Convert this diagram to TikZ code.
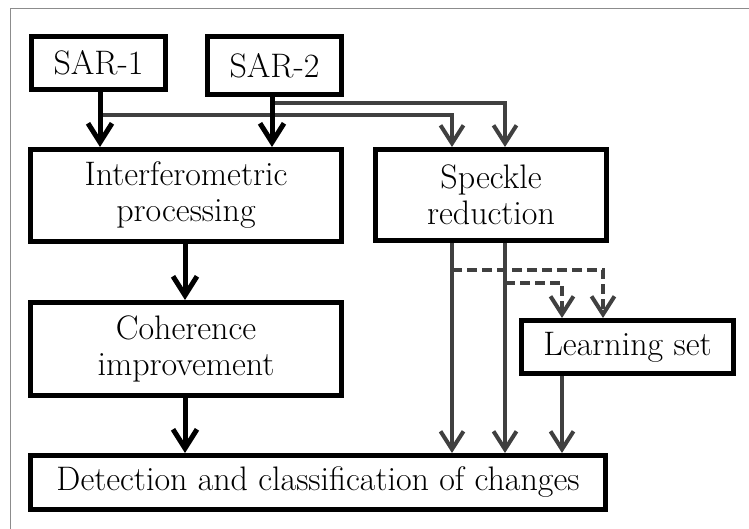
\documentclass[tikz,border=0pt]{standalone}
\usetikzlibrary{arrows.meta}
\definecolor{conngray}{HTML}{404040}
\definecolor{framegray}{HTML}{8C8C8C}
\begin{document}
\begin{tikzpicture}[x=1pt,y=-1pt,
  box/.style={draw=black,line width=5pt,fill=white,inner sep=0pt,align=center,
    font=\fontsize{34}{36}\selectfont},
  blk/.style={draw=black,line width=5pt,-{Straight Barb[length=19pt,width=24pt]}},
  gry/.style={draw=conngray,line width=4pt,-{Straight Barb[length=18pt,width=23pt]}},
  dsh/.style={gry,dash pattern=on 10pt off 5pt}]
\useasboundingbox (0,0) rectangle (749,529);
\draw[framegray,line width=1pt] (10,529) -- (10,9) -- (749,9);

\node[box,minimum width=134pt,minimum height=53pt] (sar1) at (98.5,63) {SAR-1};
\node[box,minimum width=134pt,minimum height=58pt] (sar2) at (274.5,65.5) {SAR-2};
\node[box,minimum width=311pt,minimum height=92pt] (intf) at (186,195.5) {Interferometric\\processing};
\node[box,minimum width=231pt,minimum height=91pt] (spk) at (491,195) {Speckle\\reduction};
\node[box,minimum width=311pt,minimum height=93pt] (coh) at (186,349) {Coherence\\improvement};
\node[box,minimum width=212pt,minimum height=53pt] (lrn) at (627.5,347) {Learning set};
\node[box,minimum width=575pt,minimum height=54pt] (det) at (318,482.5) {Detection and classification of changes};

\coordinate (x1) at (100,0);
\coordinate (x2) at (272,0);
\coordinate (x3) at (185,0);
\coordinate (xa) at (452,0);
\coordinate (xb) at (505,0);
\coordinate (xc) at (562,0);
\coordinate (xd) at (603,0);
\coordinate (j1) at (100,115);
\coordinate (j2) at (272,103);
\coordinate (d1) at (452,270);
\coordinate (d2) at (505,283);

% gray branches from SAR lines to speckle
\draw[gry] (j1) -| (spk.north -| xa);
\draw[gry] (j2) -| (spk.north -| xb);
% black main flow
\draw[blk] (sar1.south -| x1) -- (intf.north -| x1);
\draw[blk] (sar2.south -| x2) -- (intf.north -| x2);
\draw[blk] (intf.south -| x3) -- (coh.north -| x3);
\draw[blk] (coh.south -| x3) -- (det.north -| x3);
% speckle outputs
\draw[gry] (spk.south -| xa) -- (det.north -| xa);
\draw[gry] (spk.south -| xb) -- (det.north -| xb);
\draw[dsh] (d1) -| (lrn.north -| xd);
\draw[dsh] (d2) -| (lrn.north -| xc);
\draw[gry] (lrn.south -| xc) -- (det.north -| xc);
\end{tikzpicture}
\end{document}
